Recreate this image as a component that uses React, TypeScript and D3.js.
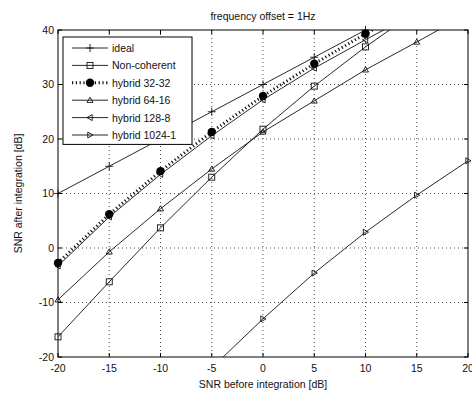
import React from "react";
import * as d3 from "d3";

const snrIn = [-20, -15, -10, -5, 0, 5, 10, 15, 20];
const ideal = [10, 15, 20, 25, 30, 35, 40, 45, 50];
const nonCoherent = [-16.3, -6.2, 3.7, 13.0, 21.8, 29.7, 36.9, 43.5, 50];
const hybrid3232 = [-2.75, 6.2, 14.1, 21.3, 27.9, 33.8, 39.3, 44.6, 49.8];
const hybrid6416 = [-9.5, -0.7, 7.2, 14.5, 21.3, 27.0, 32.7, 37.8, 43.0];
const hybrid1288 = [-3.3, 5.7, 13.5, 20.6, 27.2, 33.0, 38.2, 43.3, 48.5];
const hybrid10241 = [null, null, null, -22, -13.0, -4.6, 2.9, 9.7, 16.0];

const xTicks = [-20, -15, -10, -5, 0, 5, 10, 15, 20];
const yTicks = [-20, -10, 0, 10, 20, 30, 40];

const title = "frequency offset = 1Hz";
const xLabel = "SNR before integration [dB]";
const yLabel = "SNR after integration [dB]";

type Marker = "plus" | "square" | "circle" | "triUp" | "triLeft" | "triRight";

const series: { name: string; values: (number | null)[]; marker: Marker; dotted?: boolean }[] = [
  { name: "ideal", values: ideal, marker: "plus" },
  { name: "Non-coherent", values: nonCoherent, marker: "square" },
  { name: "hybrid 32-32", values: hybrid3232, marker: "circle", dotted: true },
  { name: "hybrid 64-16", values: hybrid6416, marker: "triUp" },
  { name: "hybrid 128-8", values: hybrid1288, marker: "triLeft" },
  { name: "hybrid 1024-1", values: hybrid10241, marker: "triRight" },
];

const W = 472;
const H = 394;
const L = 58, R = 468, T = 30, B = 357;
const font = "'Liberation Sans', Arial, sans-serif";

function MarkerShape({ type, x, y }: { type: Marker; x: number; y: number }) {
  const s = 3;
  const st = { stroke: "#111", strokeWidth: 0.9, fill: "none" } as const;
  switch (type) {
    case "plus":
      return <path d={`M${x - 4},${y}H${x + 4}M${x},${y - 4}V${y + 4}`} {...st} />;
    case "square":
      return <rect x={x - s} y={y - s} width={2 * s} height={2 * s} {...st} fill="white" fillOpacity={0} />;
    case "circle":
      return <circle cx={x} cy={y} r={4.2} fill="#000" />;
    case "triUp":
      return <path d={`M${x},${y - 3}L${x + 3},${y + 2.2}L${x - 3},${y + 2.2}Z`} {...st} />;
    case "triLeft":
      return <path d={`M${x - 3},${y}L${x + 2.2},${y - 3}L${x + 2.2},${y + 3}Z`} {...st} />;
    case "triRight":
      return <path d={`M${x + 3},${y}L${x - 2.2},${y - 3}L${x - 2.2},${y + 3}Z`} {...st} />;
  }
}

export default function App() {
  const x = d3.scaleLinear().domain([-20, 20]).range([L, R]);
  const y = d3.scaleLinear().domain([-20, 40]).range([B, T]);

  const line = d3
    .line<number | null>()
    .defined((d) => d !== null)
    .x((_, i) => x(snrIn[i]))
    .y((d) => y(d as number));

  const legX = 63, legY = 37, legW = 129, rowH = 17.4;

  return (
    <svg width={W} height={H} style={{ position: "absolute", left: 0, top: 0, background: "white" }}>
      <defs>
        <clipPath id="plot">
          <rect x={L} y={T} width={R - L} height={B - T} />
        </clipPath>
      </defs>
      <rect x={0} y={0} width={W} height={H} fill="white" />
      {/* grid */}
      {xTicks.slice(1, -1).map((t) => (
        <line key={"gx" + t} x1={x(t)} x2={x(t)} y1={T} y2={B} stroke="#222" strokeWidth={0.8} strokeDasharray="1 3" />
      ))}
      {yTicks.slice(1, -1).map((t) => (
        <line key={"gy" + t} x1={L} x2={R} y1={y(t)} y2={y(t)} stroke="#222" strokeWidth={0.8} strokeDasharray="1 3" />
      ))}
      {/* series */}
      <g clipPath="url(#plot)">
        {series.map((s) => (
          <path
            key={s.name}
            d={line(s.values) || ""}
            fill="none"
            stroke="#111"
            strokeWidth={s.dotted ? 3 : 0.9}
            strokeDasharray={s.dotted ? "1.2 2.6" : undefined}
          />
        ))}
      </g>
      {series.map((s) =>
        s.values.map((v, i) =>
          v !== null && v >= -20 && v <= 40.5 ? (
            <MarkerShape key={s.name + i} type={s.marker} x={x(snrIn[i])} y={y(v)} />
          ) : null
        )
      )}
      {/* axes box */}
      <rect x={L} y={T} width={R - L} height={B - T} fill="none" stroke="#000" strokeWidth={1} />
      {xTicks.map((t) => (
        <g key={"tx" + t}>
          <line x1={x(t)} x2={x(t)} y1={B} y2={B - 4} stroke="#000" />
          <line x1={x(t)} x2={x(t)} y1={T} y2={T + 4} stroke="#000" />
          <text x={x(t)} y={B + 15} textAnchor="middle" fontFamily={font} fontSize={10.5} fill="#111">
            {t}
          </text>
        </g>
      ))}
      {yTicks.map((t) => (
        <g key={"ty" + t}>
          <line x1={L} x2={L + 4} y1={y(t)} y2={y(t)} stroke="#000" />
          <line x1={R} x2={R - 4} y1={y(t)} y2={y(t)} stroke="#000" />
          <text x={L - 4} y={y(t) + 3.5} textAnchor="end" fontFamily={font} fontSize={10.5} fill="#111">
            {t}
          </text>
        </g>
      ))}
      <text x={(L + R) / 2} y={388} textAnchor="middle" fontFamily={font} fontSize={10.5} fill="#111">
        {xLabel}
      </text>
      <text
        transform={`translate(${22},${(T + B) / 2}) rotate(-90)`}
        textAnchor="middle"
        fontFamily={font}
        fontSize={10.5}
        fill="#111"
      >
        {yLabel}
      </text>
      <text x={(L + R) / 2} y={20} textAnchor="middle" fontFamily={font} fontSize={10.5} fill="#111">
        {title}
      </text>
      {/* legend */}
      <rect x={legX} y={legY} width={legW} height={rowH * series.length + 3} fill="white" stroke="#000" strokeWidth={1} />
      {series.map((s, i) => {
        const cy = legY + 11 + i * rowH;
        return (
          <g key={"leg" + s.name}>
            <line
              x1={legX + 9}
              x2={legX + 45}
              y1={cy}
              y2={cy}
              stroke="#111"
              strokeWidth={s.dotted ? 3 : 0.9}
              strokeDasharray={s.dotted ? "1.2 2.6" : undefined}
            />
            <MarkerShape type={s.marker} x={legX + 27} y={cy} />
            <text x={legX + 49} y={cy + 4} fontFamily={font} fontSize={10.5} fill="#111">
              {s.name}
            </text>
          </g>
        );
      })}
    </svg>
  );
}
